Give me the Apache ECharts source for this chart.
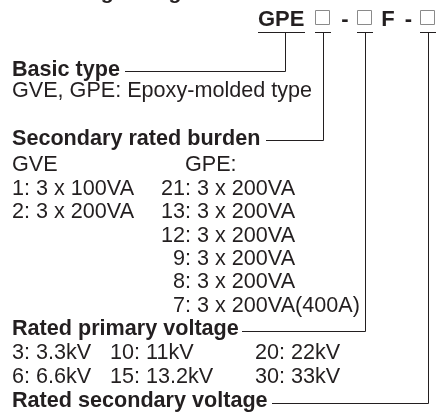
<!DOCTYPE html>
<html><head><meta charset="utf-8">
<script src="https://cdn.jsdelivr.net/npm/echarts@6/dist/echarts.min.js"></script>
<style>html,body{margin:0;padding:0;background:#fff}#c{width:437px;height:416px}</style>
</head><body><div id="c"></div>
<script>
// ---- content ----
const titleText = 'Ordering voltage transformers';
const codeText = ['GPE', '-', 'F', '-'];
const sectionTitles = ['Basic type', 'Secondary rated burden', 'Rated primary voltage', 'Rated secondary voltage'];
const basicTypeText = 'GVE, GPE: Epoxy-molded type';
const burdenGroups = ['GVE', 'GPE:'];
const gveCodes = ['1:', '2:'];
const gveBurdens = ['3 x 100VA', '3 x 200VA'];
const gpeCodes = ['21:', '13:', '12:', '9:', '8:', '7:'];
const gpeBurdens = ['3 x 200VA', '3 x 200VA', '3 x 200VA', '3 x 200VA', '3 x 200VA', '3 x 200VA(400A)'];
const primaryRow1 = ['3: 3.3kV', '10: 11kV', '20: 22kV'];
const primaryRow2 = ['6: 6.6kV', '15: 13.2kV', '30: 33kV'];

// ---- layout ----
const FONT = 'Liberation Sans, Arial, Helvetica, sans-serif';
const INK = '#231f20';
const FS = 21.6;
const L = 12;
const yBasic = 70, yEpoxy = 91, ySec = 139, yGroup = 165;
const rowY = i => 189 + 23.3 * i;
const yRP = 329.5, yP1 = 353, yP2 = 377, yRS = 401.5;
const yUnder = 32;
const xGPE = 285, xB1 = 323, xB2 = 365, xB3 = 428;

const els = [];
function txt(x, y, s, bold, align, size) {
  els.push({type: 'text', x: x, y: y, silent: true, style: {
    text: s, fill: INK, font: (bold ? 'bold ' : '') + (size || FS) + 'px ' + FONT,
    textAlign: align || 'left', textVerticalAlign: 'middle'}});
}
function line(x1, y1, x2, y2) {
  els.push({type: 'line', silent: true, shape: {x1: x1, y1: y1, x2: x2, y2: y2},
    style: {stroke: INK, lineWidth: 1}});
}
function box(x, y) {
  els.push({type: 'rect', silent: true, shape: {x: x + 0.5, y: y + 0.5, width: 14, height: 14},
    style: {fill: '#fff', stroke: '#8a8a8a', lineWidth: 1}});
}

// cut-off title
txt(25, -7, titleText, true, 'left', 21);
// code line
txt(258, 20, codeText[0], true, 'left', 22);
box(315, 10); box(357, 10); box(420, 10);
txt(345, 20, codeText[1], true, 'center', 22);
txt(388, 20, codeText[2], true, 'center', 22);
txt(408.5, 20, codeText[3], true, 'center', 22);
// underlines
line(258, yUnder + 0.5, 305, yUnder + 0.5);
line(315, yUnder + 0.5, 331, yUnder + 0.5);
line(357, yUnder + 0.5, 373, yUnder + 0.5);
line(420, yUnder + 0.5, 436, yUnder + 0.5);

// sections
txt(L, yBasic, sectionTitles[0], true);
txt(L, yEpoxy, basicTypeText, false);
txt(L, ySec, sectionTitles[1], true);
txt(L, yGroup, burdenGroups[0], false);
txt(185, yGroup, burdenGroups[1], false);
gveCodes.forEach((c, i) => txt(L, rowY(i), c + ' ' + gveBurdens[i], false));
gpeCodes.forEach((c, i) => {
  const y = i < 5 ? rowY(i) : 306;
  txt(191, y, c, false, 'right'); txt(197, y, gpeBurdens[i], false);
});
txt(L, yRP, sectionTitles[2], true);
const colX = [L, 110, 255];
primaryRow1.forEach((s, i) => txt(colX[i], yP1, s, false));
primaryRow2.forEach((s, i) => txt(colX[i], yP2, s, false));
txt(L, yRS, sectionTitles[3], true);

// connector lines
const lb = Math.round(yBasic + 1) + 0.5, ls = Math.round(ySec + 1) + 0.5, lp = Math.round(yRP + 1) + 0.5, lr = Math.round(yRS + 1) + 0.5;
line(xGPE + 0.5, yUnder, xGPE + 0.5, lb); line(125, lb, xGPE + 0.5, lb);
line(xB1 + 0.5, yUnder, xB1 + 0.5, ls); line(266, ls, xB1 + 0.5, ls);
line(xB2 + 0.5, yUnder, xB2 + 0.5, lp); line(242, lp, xB2 + 0.5, lp);
line(xB3 + 0.5, yUnder, xB3 + 0.5, lr); line(272, lr, xB3 + 0.5, lr);

const chart = echarts.init(document.getElementById('c'), null, {renderer: 'canvas'});
chart.setOption({animation: false, backgroundColor: '#fff', graphic: {elements: els}});
</script></body></html>
